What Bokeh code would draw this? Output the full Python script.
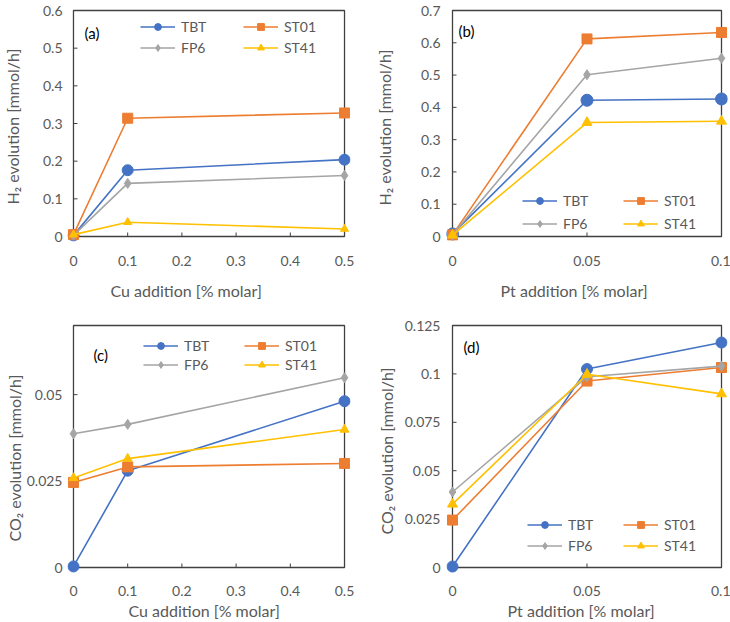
from bokeh.plotting import figure
from bokeh.layouts import gridplot
from bokeh.models import Legend, LegendItem, Label, FixedTicker, Range1d, Title
from bokeh.embed import file_html
from bokeh.resources import INLINE

# ---------------- data ----------------
series = ["TBT", "ST01", "FP6", "ST41"]
colors = ["#4472C4", "#ED7D31", "#A5A5A5", "#FFC000"]
markers = ["circle", "square", "diamond", "triangle"]

cu_x = [0, 0.1, 0.5]
pt_x = [0, 0.05, 0.1]

# (a) H2 evolution vs Cu
h2_cu_TBT = [0.003, 0.176, 0.204]
h2_cu_ST01 = [0.005, 0.314, 0.328]
h2_cu_FP6 = [0.003, 0.141, 0.162]
h2_cu_ST41 = [0.005, 0.038, 0.020]

# (b) H2 evolution vs Pt
h2_pt_TBT = [0.008, 0.422, 0.426]
h2_pt_ST01 = [0.005, 0.612, 0.632]
h2_pt_FP6 = [0.005, 0.501, 0.552]
h2_pt_ST41 = [0.004, 0.353, 0.357]

# (c) CO2 evolution vs Cu
co2_cu_TBT = [0.0003, 0.0280, 0.0481]
co2_cu_ST01 = [0.0246, 0.0291, 0.0301]
co2_cu_FP6 = [0.0387, 0.0414, 0.0549]
co2_cu_ST41 = [0.0259, 0.0315, 0.0399]

# (d) CO2 evolution vs Pt
co2_pt_TBT = [0.0005, 0.1025, 0.1162]
co2_pt_ST01 = [0.0245, 0.0963, 0.1033]
co2_pt_FP6 = [0.0390, 0.0985, 0.1040]
co2_pt_ST41 = [0.0327, 0.0998, 0.0897]

cu_xticks = [0, 0.1, 0.2, 0.3, 0.4, 0.5]
cu_xtick_labels = ["0", "0.1", "0.2", "0.3", "0.4", "0.5"]
pt_xticks = [0, 0.05, 0.1]
pt_xtick_labels = ["0", "0.05", "0.1"]
a_yticks = [0, 0.1, 0.2, 0.3, 0.4, 0.5, 0.6]
a_ytick_labels = ["0", "0.1", "0.2", "0.3", "0.4", "0.5", "0.6"]
b_yticks = [0, 0.1, 0.2, 0.3, 0.4, 0.5, 0.6, 0.7]
b_ytick_labels = ["0", "0.1", "0.2", "0.3", "0.4", "0.5", "0.6", "0.7"]
c_yticks = [0, 0.025, 0.05]
c_ytick_labels = ["0", "0.025", "0.05"]
d_yticks = [0, 0.025, 0.05, 0.075, 0.1, 0.125]
d_ytick_labels = ["0", "0.025", "0.05", "0.075", "0.1", "0.125"]

# ---------------- style ----------------
FONT = "Lato"
TICK_FS = "14px"
TITLE_FS = "16px"
GRAY = "#595959"
AX = "#404040"
W, H = 365, 311
PAD_L, PAD_R, PAD_T, PAD_B = 6, 6, 2, 6


def panel(xs, ydata, x_end, y_end, xticks, xlabels, yticks, ylabels,
          xtitle, ytitle, tag, border, leg_pos, leg_spacing, tag_pos,
          xlab_standoff, ylab_standoff, y_extra,
          xt_off, xt_standoff, yt_off, yt_standoff, msizes):
    bl, br, bt, bb = border
    fw = W - bl - br
    fh = H - bt - bb
    iw = fw - PAD_L - PAD_R
    ih = fh - PAD_T - PAD_B
    xr = Range1d(-PAD_L * x_end / iw, x_end + PAD_R * x_end / iw)
    yr = Range1d(-PAD_B * y_end / ih, y_end + PAD_T * y_end / ih)
    p = figure(width=W, height=H, x_range=xr, y_range=yr,
               output_backend="svg", toolbar_location=None,
               min_border_left=bl, min_border_right=br,
               min_border_top=bt, min_border_bottom=bb)
    p.grid.visible = False
    p.outline_line_color = None
    p.background_fill_color = "white"
    p.border_fill_color = "white"

    for ax, ticks, labels in ((p.xaxis[0], xticks, xlabels), (p.yaxis[0], yticks, ylabels)):
        ax.ticker = FixedTicker(ticks=ticks)
        ax.major_label_overrides = dict(zip(ticks, labels))
        ax.axis_line_color = None
        ax.major_tick_line_color = None
        ax.major_tick_in = 0
        ax.major_tick_out = 0
        ax.minor_tick_line_color = None
        ax.minor_tick_in = 0
        ax.minor_tick_out = 0
        ax.major_label_text_font = FONT
        ax.major_label_text_font_size = TICK_FS
        ax.major_label_text_color = GRAY
    p.xaxis[0].major_label_standoff = xlab_standoff
    p.yaxis[0].major_label_standoff = ylab_standoff
    if y_extra:
        # blank spacer so both panels of a column put their y title at the same place
        p.yaxis[0].axis_label = " "
        p.yaxis[0].axis_label_text_font_size = "1px"
        p.yaxis[0].axis_label_standoff = y_extra

    # plot-area box and inward ticks
    p.quad(left=[0], right=[x_end], bottom=[0], top=[y_end],
           fill_color=None, line_color=AX, line_width=1.3)
    tx = 4 * x_end / iw
    ty = 4 * y_end / ih
    p.segment(x0=xticks, y0=[0] * len(xticks), x1=xticks, y1=[ty] * len(xticks),
              line_color=AX, line_width=1)
    p.segment(x0=[0] * len(yticks), y0=yticks, x1=[tx] * len(yticks), y1=yticks,
              line_color=AX, line_width=1)

    items = []
    for name, col, mk, ys, ms in zip(series, colors, markers, ydata, msizes):
        lr = p.line(xs, ys, line_color=col, line_width=1.6)
        sr = p.scatter(xs, ys, marker=mk, size=ms, fill_color=col, line_color=col)
        items.append(LegendItem(label=name, renderers=[lr, sr]))

    for idx, pos in zip(((0, 2), (1, 3)), leg_pos):
        lg = Legend(items=[items[idx[0]], items[idx[1]]], location=pos,
                    orientation="vertical", padding=0, margin=0, spacing=leg_spacing,
                    glyph_width=35, glyph_height=17, label_height=17,
                    label_standoff=6, border_line_alpha=0, background_fill_alpha=0,
                    label_text_font=FONT, label_text_font_size=TICK_FS,
                    label_text_color=GRAY)
        p.add_layout(lg, "center")

    p.add_layout(Label(x=tag_pos[0], y=tag_pos[1], x_units="screen", y_units="screen",
                       text=tag, text_font=FONT, text_font_size="15px", text_color="black",
                       text_align="left", text_baseline="middle"))
    p.add_layout(Title(text=xtitle, align="left", offset=xt_off, standoff=xt_standoff,
                       text_font=FONT, text_font_size=TITLE_FS, text_color=GRAY,
                       text_font_style="normal"), "below")
    p.add_layout(Title(text=ytitle, align="left", offset=yt_off, standoff=yt_standoff,
                       text_font=FONT, text_font_size=TITLE_FS, text_color=GRAY,
                       text_font_style="normal"), "left")
    return p


pa = panel(cu_x, [h2_cu_TBT, h2_cu_ST01, h2_cu_FP6, h2_cu_ST41], 0.5, 0.6,
           cu_xticks, cu_xtick_labels, a_yticks, a_ytick_labels,
           "Cu addition [% molar]", "H₂ evolution [mmol/h]", "(a)",
           (66, 15, 8, 69), [(73, 186.5), (176, 186.5)], 4, (17, 210),
           13, 5, 14,
           43, 20, 38, 0, [11, 10, 10, 8])

pb = panel(pt_x, [h2_pt_TBT, h2_pt_ST01, h2_pt_FP6, h2_pt_ST41], 0.1, 0.7,
           pt_xticks, pt_xtick_labels, b_yticks, b_ytick_labels,
           "Pt addition [% molar]", "H₂ evolution [mmol/h]", "(b)",
           (81, 3, 8, 69), [(76, 10.5), (177, 10.5)], 6, (12, 212),
           13, 6, 14,
           54, 20, 37, 12, [12, 10, 10, 10])

pc = panel(cu_x, [co2_cu_TBT, co2_cu_ST01, co2_cu_FP6, co2_cu_ST41], 0.5, 0.07,
           cu_xticks, cu_xtick_labels, c_yticks, c_ytick_labels,
           "Cu addition [% molar]", "CO₂ evolution [mmol/h]", "(c)",
           (66, 15, 12, 49), [(76, 200.5), (177, 200.5)], 2, (26, 219),
           12, 5, 0,
           61, 1, 32, 0, [11, 10, 10, 9])

pd_ = panel(pt_x, [co2_pt_TBT, co2_pt_ST01, co2_pt_FP6, co2_pt_ST41], 0.1, 0.125,
            pt_xticks, pt_xtick_labels, d_yticks, d_ytick_labels,
            "Pt addition [% molar]", "CO₂ evolution [mmol/h]", "(d)",
            (81, 3, 12, 49), [(81, 19.5), (177, 19.5)], 4, (17, 227),
            12, 6, 0,
            61, 1, 39, 12, [11, 10, 10, 10])

grid = gridplot([[pa, pb], [pc, pd_]], toolbar_location=None)

open("out.html", "w").write(file_html(grid, INLINE))
